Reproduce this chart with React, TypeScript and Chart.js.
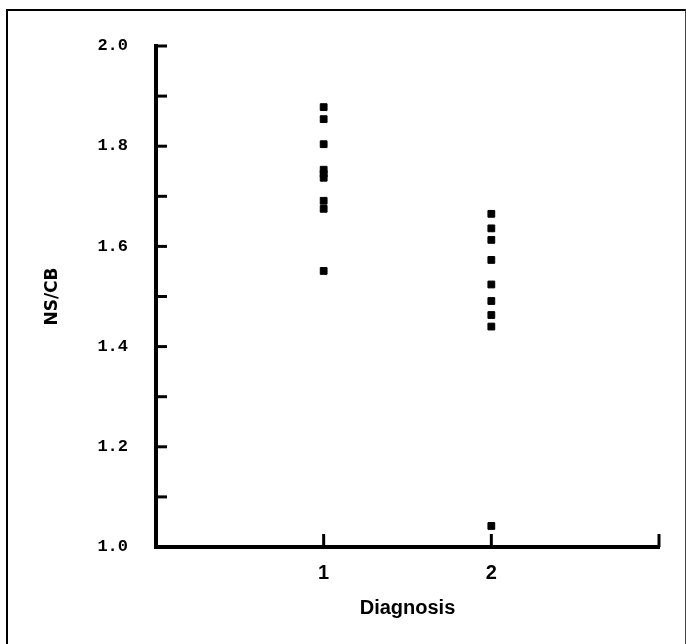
import React, { useEffect, useRef } from "react";
import { Chart, registerables } from "chart.js";

Chart.register(...registerables);

// Diagnosis group 1 and 2 NS/CB values
const group1Values = [1.878, 1.854, 1.804, 1.753, 1.745, 1.737, 1.691, 1.675, 1.551];
const group2Values = [1.665, 1.636, 1.613, 1.573, 1.524, 1.491, 1.463, 1.44, 1.042];
const groupPositions = [1, 2];
const xLabels = ["", "1", "2", ""]; // at 0,1,2,3
const yMin = 1.0;
const yMax = 2.0;
const yStep = 0.1;

const innerTicks = {
  id: "innerTicks",
  afterDraw(chart: any) {
    const { ctx, scales } = chart;
    ctx.save();
    ctx.strokeStyle = "#000";
    ctx.lineWidth = 3;
    ctx.lineCap = "butt";
    const ys = scales.y;
    const xs = scales.x;
    const axisX = ys.right;
    const axisY = xs.top;
    ys.ticks.forEach((t: any) => {
      const py = ys.getPixelForValue(t.value);
      ctx.beginPath();
      ctx.moveTo(axisX, py);
      ctx.lineTo(axisX + 11, py);
      ctx.stroke();
    });
    xs.ticks.forEach((t: any) => {
      if (t.value === xs.min) return;
      const px = xs.getPixelForValue(t.value);
      ctx.beginPath();
      ctx.moveTo(px, axisY);
      ctx.lineTo(px, axisY - 13);
      ctx.stroke();
    });
    ctx.restore();
  },
};

export default function App() {
  const ref = useRef<HTMLCanvasElement | null>(null);
  useEffect(() => {
    if (!ref.current) return;
    const pts = (vals: number[], x: number) => vals.map((v) => ({ x, y: v }));
    const chart = new Chart(ref.current, {
      type: "scatter",
      data: {
        datasets: [
          {
            data: pts(group1Values, groupPositions[0]),
            backgroundColor: "#000",
            borderColor: "#000",
            borderWidth: 1,
            pointStyle: "rect",
            pointRadius: 4.8,
          },
          {
            data: pts(group2Values, groupPositions[1]),
            backgroundColor: "#000",
            borderColor: "#000",
            borderWidth: 1,
            pointStyle: "rect",
            pointRadius: 4.8,
          },
        ],
      },
      options: {
        responsive: false,
        animation: false,
        layout: { padding: { top: 46, right: 27, left: 0, bottom: 0 } },
        plugins: { legend: { display: false }, tooltip: { enabled: false } },
        scales: {
          x: {
            type: "linear",
            min: 0,
            max: 3,
            afterFit: (s: any) => {
              s.height = 97;
            },
            grid: { display: false, drawTicks: false },
            border: { display: true, color: "#000", width: 4 },
            ticks: {
              stepSize: 1,
              padding: 14,
              color: "#000",
              font: { family: "Liberation Sans, Arial", size: 20, weight: "bold" },
              callback: (v: any) => xLabels[Math.round(Number(v))] ?? "",
            },
            title: {
              display: true,
              text: "Diagnosis",
              color: "#000",
              font: { family: "Liberation Sans, Arial", size: 20, weight: "bold" },
              padding: { top: 0, bottom: 24 },
            },
          },
          y: {
            type: "linear",
            min: yMin,
            max: yMax,
            afterFit: (s: any) => {
              s.width = 156;
            },
            grid: { display: false, drawTicks: false },
            border: { display: true, color: "#000", width: 4 },
            ticks: {
              stepSize: yStep,
              padding: 28,
              color: "#000",
              font: { family: "Liberation Mono, Courier New, monospace", size: 17, weight: "bold" },
              callback: (v: any) => {
                const n = Math.round(Number(v) * 10);
                return n % 2 === 0 ? (n / 10).toFixed(1) : "";
              },
            },
            title: {
              display: true,
              text: "NS/CB",
              color: "#000",
              font: { family: "DejaVu Sans, Liberation Sans, Arial", size: 17, weight: "bold" },
              padding: { top: 42, bottom: 0 },
            },
          },
        },
      },
      plugins: [innerTicks],
    });
    return () => chart.destroy();
  }, []);

  return (
    <div style={{ position: "absolute", left: 0, top: 0, width: 686, height: 644, background: "#fff", overflow: "hidden" }}>
      <div
        style={{
          position: "absolute",
          left: 6,
          top: 9,
          width: 677,
          height: 700,
          borderLeft: "2px solid #000",
          borderTop: "2px solid #000",
          borderRight: "1px solid #444",
        }}
      />
      <canvas ref={ref} width={686} height={644} style={{ position: "absolute", left: 0, top: 0 }} />
    </div>
  );
}
